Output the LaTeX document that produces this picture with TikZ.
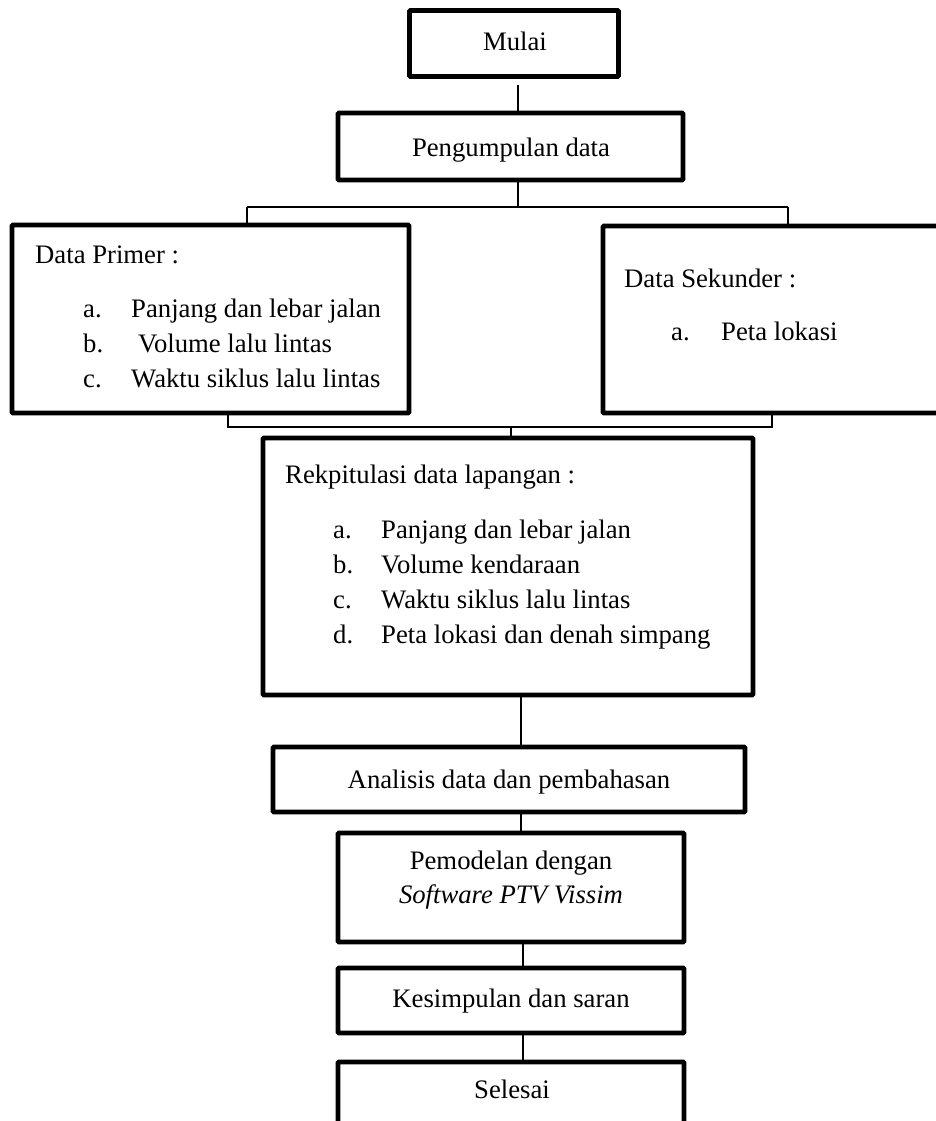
\documentclass[tikz,border=0pt]{standalone}
\usepackage{fontspec}
\setmainfont{Liberation Serif}
\begin{document}
\begin{tikzpicture}[x=1pt,y=-1pt,
  box/.style={draw=black,line width=4.8pt,rounded corners=1pt,inner sep=0pt,fill=white},
  conn/.style={draw=black,line width=1.3pt},
  txt/.style={inner sep=0pt,anchor=base west,font=\fontsize{26.7pt}{35pt}\selectfont},
  ctxt/.style={inner sep=0pt,anchor=base,font=\fontsize{26.7pt}{35pt}\selectfont}]
\useasboundingbox (0,0) rectangle (935,1121);
% boxes
\node[box,minimum width=209pt,minimum height=66pt] (mulai) at (514,43.5) {};
\node[box,minimum width=345pt,minimum height=67pt] (peng) at (510.5,146.5) {};
\node[box,minimum width=397pt,minimum height=188pt] (primer) at (210.5,319) {};
\node[box,minimum width=357pt,minimum height=187pt] (sek) at (781.5,319.5) {};
\node[box,minimum width=490pt,minimum height=257pt] (rekap) at (508,566.5) {};
\node[box,minimum width=472pt,minimum height=65pt] (anal) at (509,779.5) {};
\node[box,minimum width=346pt,minimum height=109pt] (model) at (511,887.5) {};
\node[box,minimum width=346pt,minimum height=65pt] (kesim) at (511,1000.5) {};
\node[box,minimum width=346pt,minimum height=98pt] (selesai) at (511,1111) {};
% texts
\node[ctxt] (tmulai) at (515,51) {Mulai};
\node[ctxt] (tpeng) at (511,156) {Pengumpulan data};
\node[txt] (tprim) at (35,263) {Data Primer :};
\node[txt] (pa) at (83,317) {a.};
\node[txt] (pat) at (131,317) {Panjang dan lebar jalan};
\node[txt] (pb) at (83,352) {b.};
\node[txt] (pbt) at (138,352) {Volume lalu lintas};
\node[txt] (pc) at (83,387) {c.};
\node[txt] (pct) at (131,387) {Waktu siklus lalu lintas};
\node[txt] (tsek) at (624,287) {Data Sekunder :};
\node[txt] (sa) at (671,340) {a.};
\node[txt] (sat) at (721,340) {Peta lokasi};
\node[txt] (trek) at (285,483) {Rekpitulasi data lapangan :};
\node[txt] (ra) at (333,538) {a.};
\node[txt] (rat) at (381,538) {Panjang dan lebar jalan};
\node[txt] (rb) at (333,573) {b.};
\node[txt] (rbt) at (381,573) {Volume kendaraan};
\node[txt] (rc) at (333,608) {c.};
\node[txt] (rct) at (381,608) {Waktu siklus lalu lintas};
\node[txt] (rd) at (333,643) {d.};
\node[txt] (rdt) at (381,643) {Peta lokasi dan denah simpang};
\node[ctxt] (tanal) at (509,788) {Analisis data dan pembahasan};
\node[ctxt] (tmod1) at (511,869) {Pemodelan dengan};
\node[ctxt] (tmod2) at (511,903) {\itshape Software PTV Vissim};
\node[ctxt] (tkes) at (511,1007) {Kesimpulan dan saran};
\node[ctxt] (tsel) at (512,1098) {Selesai};
% connector coordinates
\coordinate (ca) at (518,85);
\coordinate (br) at (518,207);
\coordinate (bl) at (247,207);
\coordinate (brr) at (788,207);
\coordinate (ml) at (228,427);
\coordinate (mr) at (772,427);
\coordinate (mc) at (511,427);
\coordinate (c1) at (521,0);
\coordinate (c2) at (523,0);
% connectors
\draw[conn] (ca) -- (peng.north -| ca);
\draw[conn] (peng.south -| br) -- (br);
\draw[conn] (bl) -- (brr);
\draw[conn] (bl) -- (bl |- primer.north);
\draw[conn] (brr) -- (brr |- sek.north);
\draw[conn] (ml |- primer.south) -- (ml) -- (mr) -- (mr |- sek.south);
\draw[conn] (mc) -- (mc |- rekap.north);
\draw[conn] (rekap.south -| c1) -- (anal.north -| c1);
\draw[conn] (anal.south -| c1) -- (model.north -| c1);
\draw[conn] (model.south -| c2) -- (kesim.north -| c2);
\draw[conn] (kesim.south -| c2) -- (selesai.north -| c2);
\end{tikzpicture}
\end{document}
